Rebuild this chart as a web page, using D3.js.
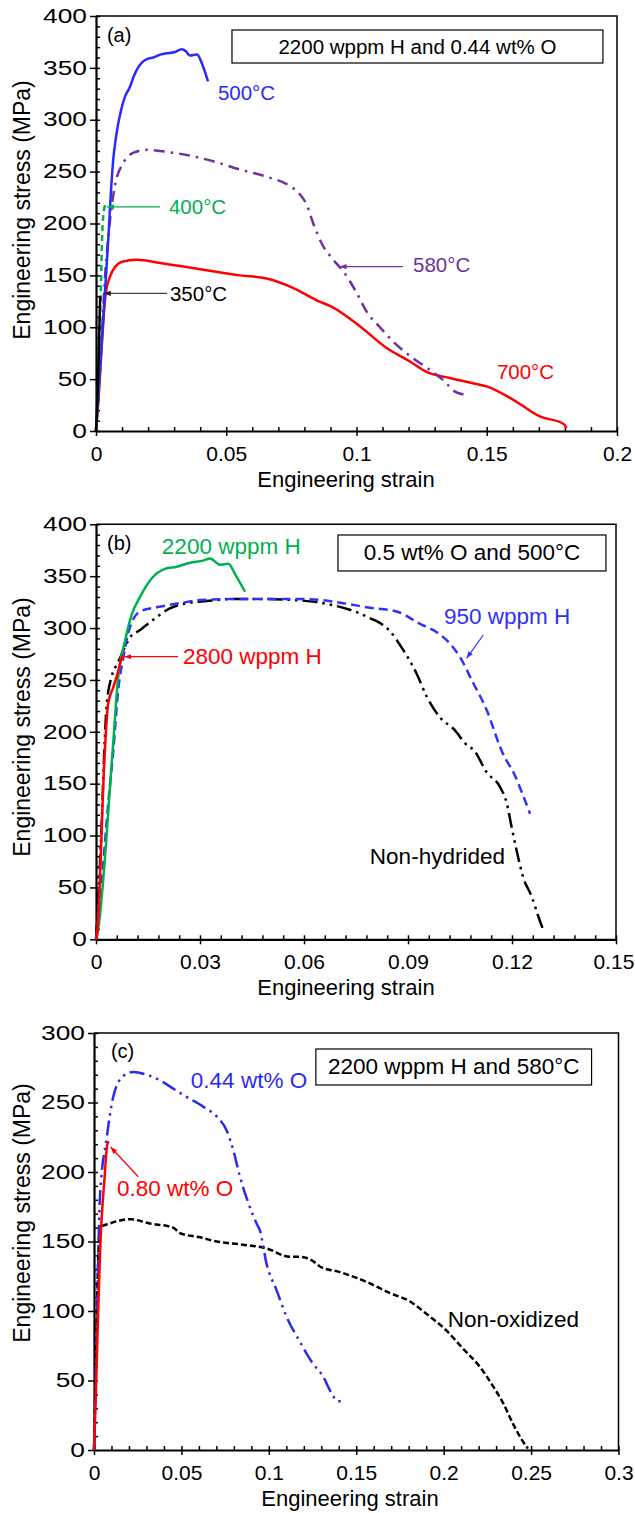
<!DOCTYPE html>
<html><head><meta charset="utf-8">
<script src="https://cdn.jsdelivr.net/npm/d3@7"></script>
<style>
body{margin:0;background:#fff;}
svg{display:block;font-family:"Liberation Sans",Arial,Helvetica,sans-serif;}
</style></head><body>
<svg id="chart" width="635" height="1513"></svg>
<script>
// ---------------- DATA (strain, stress MPa) ----------------
// Panel (a): 2200 wppm H and 0.44 wt% O, different temperatures
const a350 = [[0,0],[0.0008,50],[0.0013,100],[0.0016,130]];
const a400 = [[0,0],[0.001,60],[0.0018,130],[0.0024,190],[0.003,212],[0.0036,218]];
const a500 = [[0,0],[0.0016,62],[0.0032,125],[0.0047,184],[0.0056,225],[0.0066,261],[0.0079,287],[0.0095,308],[0.0111,322],[0.0131,332],[0.0145,342],[0.0161,350],[0.018,356],[0.020,359],[0.022,360],[0.025,363],[0.0273,364],[0.030,365],[0.033,368],[0.0345,366],[0.036,362],[0.0388,363],[0.0407,354],[0.043,337]];
const a580 = [[0,0],[0.002,80],[0.0035,150],[0.0046,184],[0.0073,237],[0.0104,258],[0.0142,268],[0.0196,271],[0.0273,269],[0.0349,266],[0.0449,260],[0.0553,252],[0.0656,245],[0.0745,236],[0.0783,228],[0.0809,218],[0.0834,200],[0.0866,181],[0.0911,165],[0.0949,154],[0.1001,133],[0.1039,115],[0.109,100],[0.1154,83],[0.1218,70],[0.1282,59],[0.1333,49],[0.1378,38],[0.1417,35]];
const a700 = [[0,0],[0.0003,8],[0.0038,134],[0.0054,149],[0.0073,158],[0.0099,163],[0.0156,165],[0.0246,162],[0.0348,158],[0.0449,154],[0.0553,150],[0.0655,147],[0.0756,138],[0.0847,126],[0.0911,119],[0.1013,101],[0.1116,80],[0.1205,67],[0.1269,57],[0.1359,51],[0.1448,46],[0.15,43],[0.1602,30],[0.1704,14],[0.1794,7],[0.1807,3]];
// Panel (b): 0.5 wt% O and 500°C, different H contents
const b2200 = [[0,0],[0.0002,2],[0.0048,182],[0.0064,253],[0.0084,288],[0.0103,313],[0.0127,330],[0.0161,348],[0.0199,357],[0.0233,359],[0.0271,363],[0.0309,365],[0.0329,367],[0.0358,361],[0.0382,362],[0.0401,352],[0.043,335]];
const b2800 = [[0,0],[0.0002,2],[0.0026,185],[0.0035,227],[0.005,243],[0.0064,258],[0.0074,271],[0.0081,274]];
const b950 = [[0,0],[0.002,70],[0.0035,130],[0.005,182],[0.0064,240],[0.0079,272],[0.0093,295],[0.0108,309],[0.0127,316],[0.0175,320],[0.0242,324],[0.03,327],[0.0396,328],[0.0492,328],[0.0598,328],[0.0713,324],[0.0781,320],[0.0867,316],[0.0935,304],[0.0983,296],[0.1021,285],[0.105,272],[0.1088,247],[0.1127,221],[0.1165,186],[0.1175,178],[0.1204,161],[0.1228,142],[0.1252,121]];
const bNonHyd = [[0,0],[0.0015,100],[0.0025,190],[0.0031,227],[0.0045,253],[0.0064,267],[0.0084,282],[0.0098,291],[0.0127,298],[0.0165,308],[0.0213,319],[0.0262,324],[0.0319,326],[0.0396,328],[0.0473,328],[0.0569,327],[0.0637,325],[0.0684,322],[0.0781,311],[0.0848,297],[0.0886,279],[0.0925,256],[0.0954,234],[0.0992,214],[0.1031,203],[0.1074,186],[0.1088,183],[0.1127,161],[0.1165,147],[0.1185,131],[0.1199,108],[0.1213,86],[0.1232,60],[0.1257,41],[0.1276,22],[0.129,9]];
// Panel (c): 2200 wppm H and 580°C, different O contents
const c044 = [[0,0],[0.0015,80],[0.0034,182],[0.0073,225],[0.011,254],[0.0167,269],[0.0225,272],[0.0301,270],[0.0377,266],[0.0453,260],[0.053,254],[0.0625,247],[0.0701,240],[0.0758,230],[0.0796,216],[0.0834,197],[0.0882,178],[0.093,163],[0.0949,158],[0.0987,134],[0.1044,115],[0.1101,96],[0.1177,78],[0.1253,62],[0.131,53],[0.1358,41],[0.1396,35],[0.1425,35]];
const c080 = [[0,0],[0.0002,7],[0.004,158],[0.006,195],[0.0076,220],[0.0085,222]];
const cNonOx = [[0,0],[0.001,60],[0.002,120],[0.0034,160],[0.0091,163],[0.0206,166],[0.032,163],[0.0453,160],[0.0491,156],[0.0606,153],[0.0701,150],[0.0834,148],[0.0987,145],[0.112,139],[0.1177,139],[0.1273,134],[0.1291,132],[0.1406,128],[0.1558,121],[0.1691,113],[0.1806,107],[0.1901,98],[0.2015,86],[0.211,73],[0.2206,60],[0.2282,46],[0.2339,34],[0.2396,19],[0.2444,8],[0.2482,1]];

// Tick values
const xTicksA = [0,0.05,0.1,0.15,0.2];
const xTicksB = [0,0.03,0.06,0.09,0.12,0.15];
const xTicksC = [0,0.05,0.1,0.15,0.2,0.25,0.3];
const yTicksAB = [0,50,100,150,200,250,300,350,400];
const yTicksC = [0,50,100,150,200,250,300];
const xTickLabelsA = ["0","0.05","0.1","0.15","0.2"];
const xTickLabelsB = ["0","0.03","0.06","0.09","0.12","0.15"];
const xTickLabelsC = ["0","0.05","0.1","0.15","0.2","0.25","0.3"];

// ---------------- DRAWING ----------------
const svg = d3.select("#chart");
const defs = svg.append("defs");
function marker(id, color){
  defs.append("marker").attr("id",id).attr("viewBox","0 0 8 6").attr("refX",8).attr("refY",3)
    .attr("markerWidth",7).attr("markerHeight",5.5).attr("markerUnits","userSpaceOnUse").attr("orient","auto")
    .append("path").attr("d","M0,0L8,3L0,6Z").attr("fill",color);
}
const GREEN="#00B050", RED="#FF0000", PURPLE="#7030A0", BLUE="#3030FF", BLACK="#000000";
marker("mGreen",GREEN); marker("mRed",RED); marker("mPurple",PURPLE); marker("mBlue",BLUE); marker("mBlack","#222");

function panel(o){
  const x = d3.scaleLinear().domain(o.xDomain).range([o.left,o.right]);
  const y = d3.scaleLinear().domain(o.yDomain).range([o.bottom,o.top]);
  const g = svg.append("g");
  g.append("path").attr("d",`M${o.left},${o.top}H${o.right}V${o.bottom}`)
    .attr("fill","none").attr("stroke","#000").attr("stroke-width",1.5);
  g.append("g").attr("transform",`translate(0,${o.bottom})`)
    .call(d3.axisTop(x).tickValues(d3.range(o.xDomain[0],o.xDomain[1]+1e-9,o.xMinor)).tickSize(4).tickFormat("").tickSizeOuter(0))
    .call(s=>{s.select(".domain").remove(); s.selectAll("line").attr("stroke-width",1.5);});
  g.append("g").attr("transform",`translate(${o.left},0)`)
    .call(d3.axisRight(y).tickValues(d3.range(o.yDomain[0],o.yDomain[1]+1e-9,10)).tickSize(4).tickFormat("").tickSizeOuter(0))
    .call(s=>{s.select(".domain").remove(); s.selectAll("line").attr("stroke-width",1.5);});
  const xa = g.append("g").attr("transform",`translate(0,${o.bottom})`)
    .call(d3.axisBottom(x).tickValues(o.xTicks).tickSize(5).tickPadding(11).tickSizeOuter(0)
      .tickFormat((d,i)=>o.xLabels[i]));
  xa.select(".domain").attr("stroke-width",2.2);
  xa.selectAll("line").attr("stroke-width",1.5);
  xa.selectAll("text").attr("font-size",20).attr("fill","#000").attr("font-family",null)
    .attr("transform","scale(1.05,1)");
  if(o.lastLabelShift){
    xa.selectAll(".tick text").filter((d,i,n)=>i===n.length-1).attr("x",o.lastLabelShift);
  }
  const ya = g.append("g").attr("transform",`translate(${o.left},0)`)
    .call(d3.axisLeft(y).tickValues(o.yTicks).tickSize(6).tickPadding(3).tickSizeOuter(0));
  ya.select(".domain").attr("stroke-width",2.2);
  ya.selectAll("line").attr("stroke-width",1.5);
  ya.selectAll("text").attr("font-size",19.5).attr("fill","#000").attr("font-family",null)
    .attr("x",-9/1.35).attr("transform","scale(1.35,1)");
  g.append("text").attr("x",o.xTitleX).attr("y",o.bottom+56).attr("text-anchor","middle")
    .attr("font-size",22).text("Engineering strain");
  g.append("text").attr("transform",`translate(30,${o.yTitleY}) rotate(-90)`).attr("text-anchor","middle")
    .attr("font-size",23).text("Engineering stress (MPa)");
  const line = d3.line().x(d=>x(d[0])).y(d=>y(d[1])).curve(d3.curveMonotoneX);
  o.series.forEach(s=>{
    g.append("path").datum(s.data).attr("d",line).attr("fill","none")
      .attr("stroke",s.color).attr("stroke-width",s.width||2.5)
      .attr("stroke-dasharray",s.dash||null).attr("stroke-linejoin","round");
  });
  if(o.box){
    const b=o.box;
    g.append("rect").attr("x",x(b.x0)).attr("y",y(b.y1)).attr("width",x(b.x1)-x(b.x0)).attr("height",y(b.y0)-y(b.y1))
      .attr("fill","#fff").attr("stroke","#000").attr("stroke-width",1.2);
    g.append("text").attr("x",x((b.x0+b.x1)/2)).attr("y",y(b.ty)).attr("text-anchor","middle")
      .attr("font-size",b.size).text(b.text);
  }
  (o.arrows||[]).forEach(a=>{
    g.append("line").attr("x1",x(a.from[0])).attr("y1",y(a.from[1])).attr("x2",x(a.to[0])).attr("y2",y(a.to[1]))
      .attr("stroke",a.color).attr("stroke-width",1.2).attr("marker-end",`url(#${a.marker})`);
  });
  (o.labels||[]).forEach(l=>{
    g.append("text").attr("x",x(l.x)).attr("y",y(l.y)).attr("fill",l.color||"#000")
      .attr("font-size",l.size).text(l.text);
  });
}

panel({
  left:96,right:617,top:16,bottom:431,xDomain:[0,0.2],yDomain:[0,400],xMinor:0.01,
  xTicks:xTicksA,xLabels:xTickLabelsA,yTicks:yTicksAB,xTitleX:346,yTitleY:210,
  series:[
    {data:a700,color:RED},
    {data:a580,color:PURPLE,dash:"11,6,2.5,6"},
    {data:a500,color:"#2a2aff"},
    {data:a400,color:GREEN,dash:"6,4"},
    {data:a350,color:BLACK}
  ],
  box:{x0:0.0522,x1:0.1946,y0:354.7,y1:386.5,ty:363.4,text:"2200 wppm H and 0.44 wt% O",size:20.5},
  arrows:[
    {from:[0.0246,216],to:[0.0042,216],color:GREEN,marker:"mGreen"},
    {from:[0.0273,132.7],to:[0.003,132.7],color:"#444",marker:"mBlack"},
    {from:[0.1178,158.4],to:[0.0935,158.4],color:PURPLE,marker:"mPurple"}
  ],
  labels:[
    {text:"(a)",x:0.0042,y:375,size:20},
    {text:"500°C",x:0.0468,y:319,color:"#2a2aff",size:20.5},
    {text:"400°C",x:0.028,y:209,color:GREEN,size:20.5},
    {text:"350°C",x:0.0284,y:125,color:"#000",size:20.5},
    {text:"580°C",x:0.1217,y:153,color:PURPLE,size:20.5},
    {text:"700°C",x:0.1539,y:50,color:RED,size:20.5}
  ]
});

panel({
  left:96,right:616,top:524.3,bottom:939.3,xDomain:[0,0.15],yDomain:[0,400],xMinor:0.006,
  xTicks:xTicksB,xLabels:xTickLabelsB,yTicks:yTicksAB,xTitleX:346,yTitleY:727,lastLabelShift:-2.5,
  series:[
    {data:bNonHyd,color:BLACK,dash:"15,5,2.5,5,2.5,5"},
    {data:b950,color:BLUE,dash:"9,5"},
    {data:b2200,color:GREEN},
    {data:b2800,color:RED}
  ],
  box:{x0:0.0698,x1:0.1471,y0:355,y1:389.7,ty:365.6,text:"0.5 wt% O and 500°C",size:22.5},
  arrows:[
    {from:[0.0237,272.4],to:[0.0082,272.4],color:RED,marker:"mRed"},
    {from:[0.1117,293.3],to:[0.1069,270.8],color:BLUE,marker:"mBlue"}
  ],
  labels:[
    {text:"(b)",x:0.0032,y:375.2,size:20},
    {text:"2200 wppm H",x:0.019,y:371.4,color:GREEN,size:22.5},
    {text:"2800 wppm H",x:0.0251,y:265.3,color:RED,size:22.5},
    {text:"950 wppm H",x:0.1004,y:303.9,color:BLUE,size:22.5},
    {text:"Non-hydrided",x:0.079,y:72.6,color:"#000",size:22.5}
  ]
});

panel({
  left:94,right:618.5,top:1033,bottom:1450,xDomain:[0,0.3],yDomain:[0,300],xMinor:0.01,
  xTicks:xTicksC,xLabels:xTickLabelsC,yTicks:yTicksC,xTitleX:350,yTitleY:1213,
  series:[
    {data:cNonOx,color:BLACK,dash:"6,3"},
    {data:c044,color:"#2b2bf0",dash:"15,5,2.5,5,2.5,5"},
    {data:c080,color:RED}
  ],
  box:{x0:0.1269,x1:0.2846,y0:262.6,y1:288.5,ty:270.5,text:"2200 wppm H and 580°C",size:22.5},
  arrows:[
    {from:[0.0253,196.6],to:[0.0095,218],color:RED,marker:"mRed"}
  ],
  labels:[
    {text:"(c)",x:0.0097,y:282,size:20},
    {text:"0.44 wt% O",x:0.0554,y:260.4,color:"#2b2bf0",size:22.5},
    {text:"0.80 wt% O",x:0.0131,y:182.7,color:RED,size:22.5},
    {text:"Non-oxidized",x:0.2023,y:88.5,color:"#000",size:22.5}
  ]
});
</script>
</body></html>
